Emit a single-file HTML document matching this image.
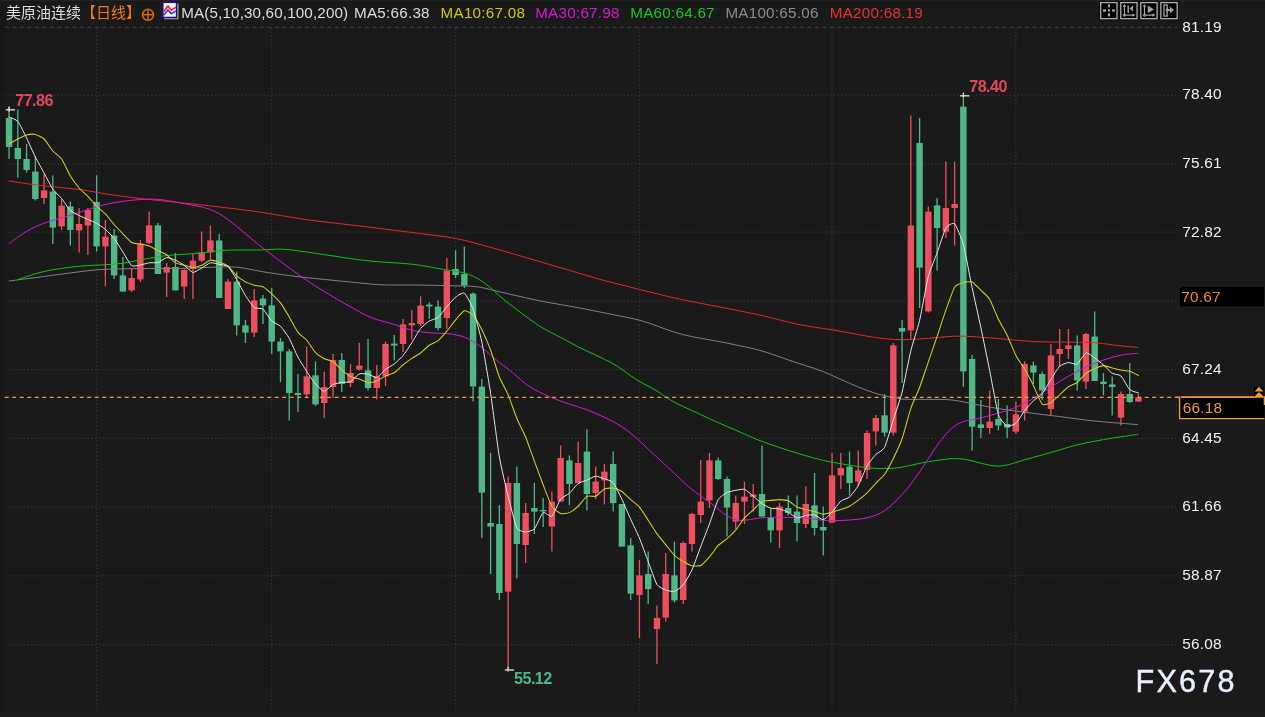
<!DOCTYPE html>
<html lang="zh"><head><meta charset="utf-8"><title>美原油连续 日线</title>
<style>html,body{margin:0;padding:0;background:#1a1a1a;overflow:hidden}svg{display:block}</style>
</head><body>
<svg width="1265" height="717" viewBox="0 0 1265 717">
<rect x="0" y="0" width="1265" height="717" fill="#1a1a1a"/>
<rect x="0" y="0" width="4.6" height="717" fill="#181818"/>
<line x1="5" y1="95.0" x2="1176.5" y2="95.0" stroke="#363636" stroke-width="1.25" stroke-dasharray="1.25 2.5"/>
<line x1="5" y1="163.5" x2="1176.5" y2="163.5" stroke="#363636" stroke-width="1.25" stroke-dasharray="1.25 2.5"/>
<line x1="5" y1="232.2" x2="1176.5" y2="232.2" stroke="#363636" stroke-width="1.25" stroke-dasharray="1.25 2.5"/>
<line x1="5" y1="301.0" x2="1176.5" y2="301.0" stroke="#363636" stroke-width="1.25" stroke-dasharray="1.25 2.5"/>
<line x1="5" y1="369.6" x2="1176.5" y2="369.6" stroke="#363636" stroke-width="1.25" stroke-dasharray="1.25 2.5"/>
<line x1="5" y1="438.3" x2="1176.5" y2="438.3" stroke="#363636" stroke-width="1.25" stroke-dasharray="1.25 2.5"/>
<line x1="5" y1="507.1" x2="1176.5" y2="507.1" stroke="#363636" stroke-width="1.25" stroke-dasharray="1.25 2.5"/>
<line x1="5" y1="575.9" x2="1176.5" y2="575.9" stroke="#363636" stroke-width="1.25" stroke-dasharray="1.25 2.5"/>
<line x1="5" y1="644.6" x2="1176.5" y2="644.6" stroke="#363636" stroke-width="1.25" stroke-dasharray="1.25 2.5"/>
<line x1="96.6" y1="28" x2="96.6" y2="711" stroke="#363636" stroke-width="1.25" stroke-dasharray="1.25 2.5"/>
<line x1="271.7" y1="28" x2="271.7" y2="711" stroke="#363636" stroke-width="1.25" stroke-dasharray="1.25 2.5"/>
<line x1="455.6" y1="28" x2="455.6" y2="711" stroke="#363636" stroke-width="1.25" stroke-dasharray="1.25 2.5"/>
<line x1="639.5" y1="28" x2="639.5" y2="711" stroke="#363636" stroke-width="1.25" stroke-dasharray="1.25 2.5"/>
<line x1="832.0" y1="28" x2="832.0" y2="711" stroke="#363636" stroke-width="1.25" stroke-dasharray="1.25 2.5"/>
<line x1="1015.8" y1="28" x2="1015.8" y2="711" stroke="#363636" stroke-width="1.25" stroke-dasharray="1.25 2.5"/>
<line x1="5" y1="27.2" x2="1177.5" y2="27.2" stroke="#464646" stroke-width="1.15" stroke-dasharray="3.75 3.75"/>
<line x1="9.07" y1="107.0" x2="9.07" y2="159.0" stroke="#50b787" stroke-width="1.3"/>
<rect x="5.87" y="118.0" width="6.4" height="29.0" fill="#50b787"/>
<line x1="17.83" y1="109.4" x2="17.83" y2="177.6" stroke="#50b787" stroke-width="1.3"/>
<rect x="14.63" y="148.0" width="6.4" height="11.0" fill="#50b787"/>
<line x1="26.58" y1="144.0" x2="26.58" y2="172.6" stroke="#50b787" stroke-width="1.3"/>
<rect x="23.38" y="159.0" width="6.4" height="11.0" fill="#50b787"/>
<line x1="35.34" y1="156.0" x2="35.34" y2="200.4" stroke="#50b787" stroke-width="1.3"/>
<rect x="32.13" y="171.6" width="6.4" height="27.4" fill="#50b787"/>
<line x1="44.09" y1="174.0" x2="44.09" y2="204.0" stroke="#ee4f5f" stroke-width="1.3"/>
<rect x="40.89" y="190.4" width="6.4" height="7.6" fill="#ee4f5f"/>
<line x1="52.85" y1="175.4" x2="52.85" y2="244.0" stroke="#50b787" stroke-width="1.3"/>
<rect x="49.65" y="191.6" width="6.4" height="36.0" fill="#50b787"/>
<line x1="61.60" y1="199.0" x2="61.60" y2="230.0" stroke="#ee4f5f" stroke-width="1.3"/>
<rect x="58.40" y="205.6" width="6.4" height="20.8" fill="#ee4f5f"/>
<line x1="70.36" y1="201.6" x2="70.36" y2="245.6" stroke="#50b787" stroke-width="1.3"/>
<rect x="67.16" y="206.4" width="6.4" height="23.6" fill="#50b787"/>
<line x1="79.11" y1="208.0" x2="79.11" y2="252.4" stroke="#ee4f5f" stroke-width="1.3"/>
<rect x="75.91" y="224.0" width="6.4" height="6.4" fill="#ee4f5f"/>
<line x1="87.87" y1="208.0" x2="87.87" y2="255.0" stroke="#ee4f5f" stroke-width="1.3"/>
<rect x="84.67" y="210.0" width="6.4" height="15.4" fill="#ee4f5f"/>
<line x1="96.62" y1="175.4" x2="96.62" y2="251.6" stroke="#50b787" stroke-width="1.3"/>
<rect x="93.42" y="202.0" width="6.4" height="44.4" fill="#50b787"/>
<line x1="105.38" y1="220.0" x2="105.38" y2="286.4" stroke="#ee4f5f" stroke-width="1.3"/>
<rect x="102.17" y="236.6" width="6.4" height="9.8" fill="#ee4f5f"/>
<line x1="114.13" y1="229.0" x2="114.13" y2="279.0" stroke="#50b787" stroke-width="1.3"/>
<rect x="110.93" y="235.4" width="6.4" height="40.0" fill="#50b787"/>
<line x1="122.89" y1="257.0" x2="122.89" y2="291.6" stroke="#50b787" stroke-width="1.3"/>
<rect x="119.69" y="275.4" width="6.4" height="16.2" fill="#50b787"/>
<line x1="131.64" y1="269.0" x2="131.64" y2="292.0" stroke="#ee4f5f" stroke-width="1.3"/>
<rect x="128.44" y="278.0" width="6.4" height="12.4" fill="#ee4f5f"/>
<line x1="140.40" y1="240.0" x2="140.40" y2="282.0" stroke="#ee4f5f" stroke-width="1.3"/>
<rect x="137.20" y="243.6" width="6.4" height="35.8" fill="#ee4f5f"/>
<line x1="149.15" y1="211.6" x2="149.15" y2="244.0" stroke="#ee4f5f" stroke-width="1.3"/>
<rect x="145.95" y="225.4" width="6.4" height="17.6" fill="#ee4f5f"/>
<line x1="157.91" y1="223.0" x2="157.91" y2="274.0" stroke="#50b787" stroke-width="1.3"/>
<rect x="154.71" y="225.4" width="6.4" height="48.6" fill="#50b787"/>
<line x1="166.66" y1="263.0" x2="166.66" y2="297.0" stroke="#ee4f5f" stroke-width="1.3"/>
<rect x="163.46" y="267.0" width="6.4" height="5.6" fill="#ee4f5f"/>
<line x1="175.42" y1="253.0" x2="175.42" y2="290.4" stroke="#50b787" stroke-width="1.3"/>
<rect x="172.22" y="267.0" width="6.4" height="23.4" fill="#50b787"/>
<line x1="184.17" y1="268.0" x2="184.17" y2="299.0" stroke="#ee4f5f" stroke-width="1.3"/>
<rect x="180.97" y="270.0" width="6.4" height="16.6" fill="#ee4f5f"/>
<line x1="192.93" y1="253.0" x2="192.93" y2="299.0" stroke="#ee4f5f" stroke-width="1.3"/>
<rect x="189.73" y="260.6" width="6.4" height="8.4" fill="#ee4f5f"/>
<line x1="201.68" y1="231.6" x2="201.68" y2="262.0" stroke="#ee4f5f" stroke-width="1.3"/>
<rect x="198.48" y="252.4" width="6.4" height="8.2" fill="#ee4f5f"/>
<line x1="210.44" y1="225.4" x2="210.44" y2="259.4" stroke="#ee4f5f" stroke-width="1.3"/>
<rect x="207.24" y="240.4" width="6.4" height="12.0" fill="#ee4f5f"/>
<line x1="219.19" y1="234.0" x2="219.19" y2="298.0" stroke="#50b787" stroke-width="1.3"/>
<rect x="215.99" y="240.4" width="6.4" height="57.6" fill="#50b787"/>
<line x1="227.95" y1="279.0" x2="227.95" y2="309.0" stroke="#ee4f5f" stroke-width="1.3"/>
<rect x="224.75" y="281.6" width="6.4" height="27.4" fill="#ee4f5f"/>
<line x1="236.70" y1="271.6" x2="236.70" y2="335.6" stroke="#50b787" stroke-width="1.3"/>
<rect x="233.50" y="281.6" width="6.4" height="43.8" fill="#50b787"/>
<line x1="245.46" y1="320.0" x2="245.46" y2="343.0" stroke="#50b787" stroke-width="1.3"/>
<rect x="242.26" y="325.4" width="6.4" height="7.2" fill="#50b787"/>
<line x1="254.21" y1="289.0" x2="254.21" y2="337.0" stroke="#ee4f5f" stroke-width="1.3"/>
<rect x="251.01" y="300.4" width="6.4" height="32.2" fill="#ee4f5f"/>
<line x1="262.97" y1="295.0" x2="262.97" y2="324.0" stroke="#50b787" stroke-width="1.3"/>
<rect x="259.77" y="298.6" width="6.4" height="6.8" fill="#50b787"/>
<line x1="271.72" y1="288.0" x2="271.72" y2="354.0" stroke="#50b787" stroke-width="1.3"/>
<rect x="268.52" y="305.4" width="6.4" height="36.2" fill="#50b787"/>
<line x1="280.48" y1="338.0" x2="280.48" y2="382.0" stroke="#50b787" stroke-width="1.3"/>
<rect x="277.28" y="341.6" width="6.4" height="9.8" fill="#50b787"/>
<line x1="289.23" y1="349.0" x2="289.23" y2="420.4" stroke="#50b787" stroke-width="1.3"/>
<rect x="286.03" y="351.4" width="6.4" height="41.6" fill="#50b787"/>
<line x1="297.99" y1="374.0" x2="297.99" y2="412.0" stroke="#50b787" stroke-width="1.3"/>
<rect x="294.79" y="393.0" width="6.4" height="2.0" fill="#50b787"/>
<line x1="306.74" y1="346.6" x2="306.74" y2="397.4" stroke="#ee4f5f" stroke-width="1.3"/>
<rect x="303.54" y="376.4" width="6.4" height="18.0" fill="#ee4f5f"/>
<line x1="315.50" y1="361.4" x2="315.50" y2="406.0" stroke="#50b787" stroke-width="1.3"/>
<rect x="312.30" y="375.4" width="6.4" height="29.0" fill="#50b787"/>
<line x1="324.25" y1="371.6" x2="324.25" y2="418.0" stroke="#ee4f5f" stroke-width="1.3"/>
<rect x="321.05" y="387.0" width="6.4" height="16.0" fill="#ee4f5f"/>
<line x1="333.00" y1="354.0" x2="333.00" y2="398.0" stroke="#ee4f5f" stroke-width="1.3"/>
<rect x="329.81" y="360.0" width="6.4" height="27.0" fill="#ee4f5f"/>
<line x1="341.76" y1="353.0" x2="341.76" y2="392.0" stroke="#50b787" stroke-width="1.3"/>
<rect x="338.56" y="360.0" width="6.4" height="24.0" fill="#50b787"/>
<line x1="350.52" y1="364.0" x2="350.52" y2="387.0" stroke="#ee4f5f" stroke-width="1.3"/>
<rect x="347.32" y="373.0" width="6.4" height="10.0" fill="#ee4f5f"/>
<line x1="359.27" y1="343.0" x2="359.27" y2="370.6" stroke="#ee4f5f" stroke-width="1.3"/>
<rect x="356.07" y="365.6" width="6.4" height="3.8" fill="#ee4f5f"/>
<line x1="368.03" y1="339.0" x2="368.03" y2="390.6" stroke="#50b787" stroke-width="1.3"/>
<rect x="364.83" y="370.4" width="6.4" height="17.6" fill="#50b787"/>
<line x1="376.78" y1="365.0" x2="376.78" y2="399.4" stroke="#ee4f5f" stroke-width="1.3"/>
<rect x="373.58" y="376.4" width="6.4" height="11.6" fill="#ee4f5f"/>
<line x1="385.54" y1="341.6" x2="385.54" y2="386.0" stroke="#ee4f5f" stroke-width="1.3"/>
<rect x="382.34" y="344.0" width="6.4" height="32.4" fill="#ee4f5f"/>
<line x1="394.29" y1="335.0" x2="394.29" y2="360.4" stroke="#50b787" stroke-width="1.3"/>
<rect x="391.09" y="343.6" width="6.4" height="2.0" fill="#50b787"/>
<line x1="403.05" y1="319.0" x2="403.05" y2="352.0" stroke="#ee4f5f" stroke-width="1.3"/>
<rect x="399.85" y="324.4" width="6.4" height="19.6" fill="#ee4f5f"/>
<line x1="411.80" y1="310.0" x2="411.80" y2="339.4" stroke="#ee4f5f" stroke-width="1.3"/>
<rect x="408.60" y="323.0" width="6.4" height="2.4" fill="#ee4f5f"/>
<line x1="420.56" y1="296.4" x2="420.56" y2="325.6" stroke="#ee4f5f" stroke-width="1.3"/>
<rect x="417.36" y="305.6" width="6.4" height="18.4" fill="#ee4f5f"/>
<line x1="429.31" y1="302.4" x2="429.31" y2="319.0" stroke="#50b787" stroke-width="1.3"/>
<rect x="426.11" y="304.6" width="6.4" height="1.8" fill="#50b787"/>
<line x1="438.07" y1="300.4" x2="438.07" y2="330.6" stroke="#50b787" stroke-width="1.3"/>
<rect x="434.87" y="306.6" width="6.4" height="21.4" fill="#50b787"/>
<line x1="446.82" y1="258.0" x2="446.82" y2="329.0" stroke="#ee4f5f" stroke-width="1.3"/>
<rect x="443.62" y="270.6" width="6.4" height="47.4" fill="#ee4f5f"/>
<line x1="455.58" y1="250.4" x2="455.58" y2="278.0" stroke="#50b787" stroke-width="1.3"/>
<rect x="452.38" y="269.0" width="6.4" height="6.0" fill="#50b787"/>
<line x1="464.33" y1="246.6" x2="464.33" y2="288.0" stroke="#50b787" stroke-width="1.3"/>
<rect x="461.13" y="274.0" width="6.4" height="11.6" fill="#50b787"/>
<line x1="473.09" y1="292.4" x2="473.09" y2="401.6" stroke="#50b787" stroke-width="1.3"/>
<rect x="469.89" y="293.6" width="6.4" height="92.8" fill="#50b787"/>
<line x1="481.84" y1="379.0" x2="481.84" y2="538.0" stroke="#50b787" stroke-width="1.3"/>
<rect x="478.64" y="386.6" width="6.4" height="106.0" fill="#50b787"/>
<line x1="490.60" y1="453.0" x2="490.60" y2="574.0" stroke="#50b787" stroke-width="1.3"/>
<rect x="487.40" y="523.0" width="6.4" height="3.6" fill="#50b787"/>
<line x1="499.35" y1="505.0" x2="499.35" y2="600.0" stroke="#50b787" stroke-width="1.3"/>
<rect x="496.15" y="524.0" width="6.4" height="69.0" fill="#50b787"/>
<line x1="508.11" y1="476.6" x2="508.11" y2="669.6" stroke="#ee4f5f" stroke-width="1.3"/>
<rect x="504.91" y="483.0" width="6.4" height="108.6" fill="#ee4f5f"/>
<line x1="516.86" y1="466.6" x2="516.86" y2="578.6" stroke="#50b787" stroke-width="1.3"/>
<rect x="513.66" y="483.0" width="6.4" height="61.0" fill="#50b787"/>
<line x1="525.62" y1="503.0" x2="525.62" y2="563.0" stroke="#ee4f5f" stroke-width="1.3"/>
<rect x="522.42" y="513.0" width="6.4" height="32.0" fill="#ee4f5f"/>
<line x1="534.37" y1="482.6" x2="534.37" y2="534.0" stroke="#50b787" stroke-width="1.3"/>
<rect x="531.17" y="508.0" width="6.4" height="3.6" fill="#50b787"/>
<line x1="543.13" y1="498.0" x2="543.13" y2="527.0" stroke="#50b787" stroke-width="1.3"/>
<rect x="539.93" y="510.0" width="6.4" height="1.4" fill="#50b787"/>
<line x1="551.88" y1="491.6" x2="551.88" y2="551.6" stroke="#ee4f5f" stroke-width="1.3"/>
<rect x="548.68" y="501.6" width="6.4" height="25.0" fill="#ee4f5f"/>
<line x1="560.64" y1="445.4" x2="560.64" y2="501.6" stroke="#ee4f5f" stroke-width="1.3"/>
<rect x="557.44" y="458.0" width="6.4" height="43.6" fill="#ee4f5f"/>
<line x1="569.39" y1="455.4" x2="569.39" y2="505.4" stroke="#50b787" stroke-width="1.3"/>
<rect x="566.19" y="460.4" width="6.4" height="23.6" fill="#50b787"/>
<line x1="578.15" y1="441.6" x2="578.15" y2="483.0" stroke="#ee4f5f" stroke-width="1.3"/>
<rect x="574.95" y="463.0" width="6.4" height="20.0" fill="#ee4f5f"/>
<line x1="586.90" y1="429.4" x2="586.90" y2="510.4" stroke="#50b787" stroke-width="1.3"/>
<rect x="583.70" y="451.6" width="6.4" height="42.4" fill="#50b787"/>
<line x1="595.66" y1="466.6" x2="595.66" y2="499.0" stroke="#ee4f5f" stroke-width="1.3"/>
<rect x="592.46" y="481.6" width="6.4" height="11.4" fill="#ee4f5f"/>
<line x1="604.41" y1="464.0" x2="604.41" y2="504.4" stroke="#ee4f5f" stroke-width="1.3"/>
<rect x="601.21" y="471.6" width="6.4" height="8.8" fill="#ee4f5f"/>
<line x1="613.17" y1="451.6" x2="613.17" y2="511.6" stroke="#50b787" stroke-width="1.3"/>
<rect x="609.97" y="464.0" width="6.4" height="39.0" fill="#50b787"/>
<line x1="621.92" y1="504.0" x2="621.92" y2="546.6" stroke="#50b787" stroke-width="1.3"/>
<rect x="618.72" y="504.0" width="6.4" height="42.6" fill="#50b787"/>
<line x1="630.68" y1="538.0" x2="630.68" y2="600.0" stroke="#50b787" stroke-width="1.3"/>
<rect x="627.48" y="545.4" width="6.4" height="48.2" fill="#50b787"/>
<line x1="639.43" y1="560.0" x2="639.43" y2="638.0" stroke="#ee4f5f" stroke-width="1.3"/>
<rect x="636.23" y="575.4" width="6.4" height="19.6" fill="#ee4f5f"/>
<line x1="648.19" y1="551.6" x2="648.19" y2="604.0" stroke="#50b787" stroke-width="1.3"/>
<rect x="644.99" y="574.0" width="6.4" height="15.0" fill="#50b787"/>
<line x1="656.94" y1="605.4" x2="656.94" y2="664.0" stroke="#ee4f5f" stroke-width="1.3"/>
<rect x="653.74" y="618.0" width="6.4" height="11.0" fill="#ee4f5f"/>
<line x1="665.70" y1="553.0" x2="665.70" y2="621.6" stroke="#ee4f5f" stroke-width="1.3"/>
<rect x="662.50" y="574.0" width="6.4" height="43.6" fill="#ee4f5f"/>
<line x1="674.45" y1="541.6" x2="674.45" y2="602.6" stroke="#50b787" stroke-width="1.3"/>
<rect x="671.25" y="575.4" width="6.4" height="25.0" fill="#50b787"/>
<line x1="683.21" y1="541.6" x2="683.21" y2="604.0" stroke="#ee4f5f" stroke-width="1.3"/>
<rect x="680.01" y="543.0" width="6.4" height="57.0" fill="#ee4f5f"/>
<line x1="691.96" y1="513.0" x2="691.96" y2="551.6" stroke="#ee4f5f" stroke-width="1.3"/>
<rect x="688.76" y="514.0" width="6.4" height="30.0" fill="#ee4f5f"/>
<line x1="700.72" y1="460.0" x2="700.72" y2="523.0" stroke="#ee4f5f" stroke-width="1.3"/>
<rect x="697.52" y="501.6" width="6.4" height="13.4" fill="#ee4f5f"/>
<line x1="709.47" y1="453.0" x2="709.47" y2="508.0" stroke="#ee4f5f" stroke-width="1.3"/>
<rect x="706.27" y="460.4" width="6.4" height="40.0" fill="#ee4f5f"/>
<line x1="718.23" y1="457.6" x2="718.23" y2="480.0" stroke="#50b787" stroke-width="1.3"/>
<rect x="715.03" y="460.4" width="6.4" height="18.6" fill="#50b787"/>
<line x1="726.98" y1="476.6" x2="726.98" y2="536.4" stroke="#50b787" stroke-width="1.3"/>
<rect x="723.78" y="479.0" width="6.4" height="28.6" fill="#50b787"/>
<line x1="735.74" y1="495.4" x2="735.74" y2="529.0" stroke="#ee4f5f" stroke-width="1.3"/>
<rect x="732.54" y="503.0" width="6.4" height="18.6" fill="#ee4f5f"/>
<line x1="744.49" y1="481.6" x2="744.49" y2="524.0" stroke="#ee4f5f" stroke-width="1.3"/>
<rect x="741.29" y="496.6" width="6.4" height="5.0" fill="#ee4f5f"/>
<line x1="753.25" y1="484.0" x2="753.25" y2="511.6" stroke="#ee4f5f" stroke-width="1.3"/>
<rect x="750.05" y="494.4" width="6.4" height="2.6" fill="#ee4f5f"/>
<line x1="762.00" y1="445.4" x2="762.00" y2="516.6" stroke="#50b787" stroke-width="1.3"/>
<rect x="758.80" y="494.0" width="6.4" height="22.6" fill="#50b787"/>
<line x1="770.76" y1="508.0" x2="770.76" y2="542.6" stroke="#50b787" stroke-width="1.3"/>
<rect x="767.56" y="517.0" width="6.4" height="13.4" fill="#50b787"/>
<line x1="779.51" y1="503.0" x2="779.51" y2="548.0" stroke="#ee4f5f" stroke-width="1.3"/>
<rect x="776.31" y="506.6" width="6.4" height="23.8" fill="#ee4f5f"/>
<line x1="788.27" y1="495.4" x2="788.27" y2="515.4" stroke="#50b787" stroke-width="1.3"/>
<rect x="785.07" y="508.0" width="6.4" height="5.0" fill="#50b787"/>
<line x1="797.02" y1="495.4" x2="797.02" y2="541.6" stroke="#50b787" stroke-width="1.3"/>
<rect x="793.82" y="511.6" width="6.4" height="11.4" fill="#50b787"/>
<line x1="805.78" y1="486.6" x2="805.78" y2="528.0" stroke="#ee4f5f" stroke-width="1.3"/>
<rect x="802.58" y="504.0" width="6.4" height="20.0" fill="#ee4f5f"/>
<line x1="814.53" y1="473.0" x2="814.53" y2="535.4" stroke="#50b787" stroke-width="1.3"/>
<rect x="811.33" y="505.4" width="6.4" height="22.6" fill="#50b787"/>
<line x1="823.29" y1="506.6" x2="823.29" y2="555.4" stroke="#50b787" stroke-width="1.3"/>
<rect x="820.09" y="527.0" width="6.4" height="3.4" fill="#50b787"/>
<line x1="832.04" y1="453.0" x2="832.04" y2="522.6" stroke="#ee4f5f" stroke-width="1.3"/>
<rect x="828.84" y="475.4" width="6.4" height="47.2" fill="#ee4f5f"/>
<line x1="840.80" y1="453.0" x2="840.80" y2="489.0" stroke="#ee4f5f" stroke-width="1.3"/>
<rect x="837.60" y="468.0" width="6.4" height="7.4" fill="#ee4f5f"/>
<line x1="849.55" y1="451.6" x2="849.55" y2="495.4" stroke="#50b787" stroke-width="1.3"/>
<rect x="846.35" y="466.6" width="6.4" height="16.4" fill="#50b787"/>
<line x1="858.31" y1="450.4" x2="858.31" y2="486.6" stroke="#ee4f5f" stroke-width="1.3"/>
<rect x="855.11" y="470.4" width="6.4" height="11.2" fill="#ee4f5f"/>
<line x1="867.06" y1="430.4" x2="867.06" y2="479.0" stroke="#ee4f5f" stroke-width="1.3"/>
<rect x="863.86" y="433.0" width="6.4" height="37.0" fill="#ee4f5f"/>
<line x1="875.82" y1="415.0" x2="875.82" y2="445.4" stroke="#ee4f5f" stroke-width="1.3"/>
<rect x="872.62" y="418.0" width="6.4" height="13.4" fill="#ee4f5f"/>
<line x1="884.57" y1="394.0" x2="884.57" y2="436.6" stroke="#50b787" stroke-width="1.3"/>
<rect x="881.37" y="415.4" width="6.4" height="17.2" fill="#50b787"/>
<line x1="893.33" y1="343.0" x2="893.33" y2="435.4" stroke="#ee4f5f" stroke-width="1.3"/>
<rect x="890.13" y="345.4" width="6.4" height="87.2" fill="#ee4f5f"/>
<line x1="902.08" y1="320.0" x2="902.08" y2="383.0" stroke="#50b787" stroke-width="1.3"/>
<rect x="898.88" y="328.0" width="6.4" height="3.6" fill="#50b787"/>
<line x1="910.84" y1="115.4" x2="910.84" y2="339.0" stroke="#ee4f5f" stroke-width="1.3"/>
<rect x="907.64" y="225.6" width="6.4" height="104.8" fill="#ee4f5f"/>
<line x1="919.59" y1="118.0" x2="919.59" y2="308.0" stroke="#50b787" stroke-width="1.3"/>
<rect x="916.39" y="143.0" width="6.4" height="124.6" fill="#50b787"/>
<line x1="928.35" y1="206.6" x2="928.35" y2="312.6" stroke="#ee4f5f" stroke-width="1.3"/>
<rect x="925.15" y="211.6" width="6.4" height="99.8" fill="#ee4f5f"/>
<line x1="937.10" y1="198.0" x2="937.10" y2="270.4" stroke="#50b787" stroke-width="1.3"/>
<rect x="933.90" y="205.4" width="6.4" height="22.6" fill="#50b787"/>
<line x1="945.86" y1="161.6" x2="945.86" y2="238.0" stroke="#ee4f5f" stroke-width="1.3"/>
<rect x="942.66" y="208.0" width="6.4" height="23.6" fill="#ee4f5f"/>
<line x1="954.61" y1="161.6" x2="954.61" y2="245.6" stroke="#ee4f5f" stroke-width="1.3"/>
<rect x="951.41" y="204.0" width="6.4" height="4.0" fill="#ee4f5f"/>
<line x1="963.37" y1="95.6" x2="963.37" y2="386.6" stroke="#50b787" stroke-width="1.3"/>
<rect x="960.17" y="106.6" width="6.4" height="264.8" fill="#50b787"/>
<line x1="972.12" y1="355.0" x2="972.12" y2="450.4" stroke="#50b787" stroke-width="1.3"/>
<rect x="968.92" y="359.0" width="6.4" height="67.6" fill="#50b787"/>
<line x1="980.88" y1="400.0" x2="980.88" y2="438.0" stroke="#50b787" stroke-width="1.3"/>
<rect x="977.68" y="424.4" width="6.4" height="3.6" fill="#50b787"/>
<line x1="989.63" y1="390.4" x2="989.63" y2="434.0" stroke="#ee4f5f" stroke-width="1.3"/>
<rect x="986.43" y="421.6" width="6.4" height="6.4" fill="#ee4f5f"/>
<line x1="998.39" y1="399.0" x2="998.39" y2="430.4" stroke="#50b787" stroke-width="1.3"/>
<rect x="995.19" y="419.0" width="6.4" height="6.4" fill="#50b787"/>
<line x1="1007.14" y1="405.4" x2="1007.14" y2="438.0" stroke="#50b787" stroke-width="1.3"/>
<rect x="1003.94" y="424.0" width="6.4" height="3.6" fill="#50b787"/>
<line x1="1015.90" y1="401.6" x2="1015.90" y2="434.0" stroke="#ee4f5f" stroke-width="1.3"/>
<rect x="1012.70" y="414.4" width="6.4" height="17.2" fill="#ee4f5f"/>
<line x1="1024.65" y1="361.6" x2="1024.65" y2="420.4" stroke="#ee4f5f" stroke-width="1.3"/>
<rect x="1021.45" y="364.0" width="6.4" height="47.6" fill="#ee4f5f"/>
<line x1="1033.40" y1="361.6" x2="1033.40" y2="384.0" stroke="#50b787" stroke-width="1.3"/>
<rect x="1030.20" y="365.4" width="6.4" height="7.2" fill="#50b787"/>
<line x1="1042.16" y1="371.6" x2="1042.16" y2="400.0" stroke="#50b787" stroke-width="1.3"/>
<rect x="1038.96" y="374.0" width="6.4" height="16.4" fill="#50b787"/>
<line x1="1050.91" y1="344.0" x2="1050.91" y2="415.4" stroke="#ee4f5f" stroke-width="1.3"/>
<rect x="1047.71" y="355.4" width="6.4" height="53.6" fill="#ee4f5f"/>
<line x1="1059.67" y1="329.0" x2="1059.67" y2="366.6" stroke="#ee4f5f" stroke-width="1.3"/>
<rect x="1056.47" y="349.0" width="6.4" height="5.0" fill="#ee4f5f"/>
<line x1="1068.42" y1="329.0" x2="1068.42" y2="359.0" stroke="#ee4f5f" stroke-width="1.3"/>
<rect x="1065.22" y="345.4" width="6.4" height="3.6" fill="#ee4f5f"/>
<line x1="1077.18" y1="335.4" x2="1077.18" y2="390.4" stroke="#50b787" stroke-width="1.3"/>
<rect x="1073.98" y="345.4" width="6.4" height="35.0" fill="#50b787"/>
<line x1="1085.93" y1="333.0" x2="1085.93" y2="389.0" stroke="#ee4f5f" stroke-width="1.3"/>
<rect x="1082.73" y="334.0" width="6.4" height="47.6" fill="#ee4f5f"/>
<line x1="1094.69" y1="311.6" x2="1094.69" y2="381.0" stroke="#50b787" stroke-width="1.3"/>
<rect x="1091.49" y="336.6" width="6.4" height="44.4" fill="#50b787"/>
<line x1="1103.44" y1="373.0" x2="1103.44" y2="395.4" stroke="#50b787" stroke-width="1.3"/>
<rect x="1100.24" y="381.6" width="6.4" height="2.4" fill="#50b787"/>
<line x1="1112.20" y1="376.6" x2="1112.20" y2="415.4" stroke="#50b787" stroke-width="1.3"/>
<rect x="1109.00" y="384.4" width="6.4" height="2.6" fill="#50b787"/>
<line x1="1120.95" y1="391.6" x2="1120.95" y2="425.4" stroke="#ee4f5f" stroke-width="1.3"/>
<rect x="1117.75" y="394.0" width="6.4" height="23.6" fill="#ee4f5f"/>
<line x1="1129.71" y1="363.0" x2="1129.71" y2="403.0" stroke="#50b787" stroke-width="1.3"/>
<rect x="1126.51" y="394.0" width="6.4" height="8.0" fill="#50b787"/>
<line x1="1138.47" y1="394.0" x2="1138.47" y2="401.6" stroke="#ee4f5f" stroke-width="1.3"/>
<rect x="1135.27" y="397.4" width="6.4" height="4.2" fill="#ee4f5f"/>
<path d="M9.20,181.00 C10.64,181.22 14.93,181.86 17.83,182.29 C20.72,182.73 23.66,183.17 26.58,183.60 C29.50,184.02 32.42,184.46 35.34,184.85 C38.25,185.24 41.17,185.60 44.09,185.93 C47.01,186.25 49.93,186.53 52.85,186.82 C55.76,187.11 58.68,187.37 61.60,187.65 C64.52,187.93 67.44,188.18 70.36,188.48 C73.27,188.79 76.19,189.09 79.11,189.47 C82.03,189.86 84.95,190.32 87.87,190.79 C90.78,191.27 93.70,191.81 96.62,192.31 C99.54,192.81 102.46,193.33 105.38,193.81 C108.29,194.29 111.21,194.76 114.13,195.18 C117.05,195.61 119.97,195.98 122.89,196.36 C125.80,196.74 128.72,197.10 131.64,197.45 C134.56,197.81 137.48,198.18 140.40,198.52 C143.31,198.86 146.23,199.18 149.15,199.49 C152.07,199.80 154.99,200.09 157.91,200.39 C160.82,200.69 163.74,200.97 166.66,201.27 C169.58,201.56 172.50,201.85 175.42,202.15 C178.33,202.45 181.25,202.76 184.17,203.07 C187.09,203.38 190.01,203.70 192.93,204.02 C195.84,204.34 198.76,204.66 201.68,204.98 C204.60,205.31 207.52,205.62 210.44,205.95 C213.35,206.27 216.27,206.60 219.19,206.93 C222.11,207.27 225.03,207.62 227.95,207.97 C230.86,208.31 233.78,208.67 236.70,209.02 C239.62,209.38 242.54,209.72 245.46,210.10 C248.37,210.47 251.29,210.86 254.21,211.28 C257.13,211.70 260.05,212.17 262.97,212.63 C265.88,213.09 268.80,213.59 271.72,214.06 C274.64,214.54 277.56,215.02 280.48,215.50 C283.39,215.97 286.31,216.45 289.23,216.93 C292.15,217.41 295.07,217.90 297.99,218.36 C300.90,218.82 303.82,219.29 306.74,219.70 C309.66,220.12 312.58,220.49 315.50,220.85 C318.41,221.21 321.33,221.54 324.25,221.88 C327.17,222.21 330.09,222.55 333.00,222.89 C335.92,223.22 338.84,223.56 341.76,223.90 C344.68,224.23 347.60,224.57 350.52,224.91 C353.43,225.25 356.35,225.59 359.27,225.94 C362.19,226.28 365.11,226.64 368.03,227.00 C370.94,227.37 373.86,227.73 376.78,228.10 C379.70,228.46 382.62,228.83 385.54,229.19 C388.45,229.56 391.37,229.92 394.29,230.29 C397.21,230.65 400.13,231.02 403.05,231.38 C405.96,231.75 408.88,232.11 411.80,232.48 C414.72,232.84 417.64,233.20 420.56,233.57 C423.47,233.93 426.39,234.29 429.31,234.66 C432.23,235.04 435.15,235.41 438.07,235.80 C440.98,236.20 443.90,236.59 446.82,237.04 C449.74,237.48 452.66,237.92 455.58,238.47 C458.49,239.02 461.41,239.63 464.33,240.32 C467.25,241.00 470.17,241.80 473.09,242.57 C476.00,243.34 478.92,244.16 481.84,244.96 C484.76,245.76 487.68,246.56 490.60,247.37 C493.51,248.19 496.43,249.02 499.35,249.86 C502.27,250.70 505.19,251.55 508.11,252.39 C511.02,253.24 513.94,254.09 516.86,254.94 C519.78,255.79 522.70,256.64 525.62,257.49 C528.53,258.34 531.45,259.19 534.37,260.03 C537.29,260.88 540.21,261.73 543.13,262.59 C546.04,263.44 548.96,264.30 551.88,265.16 C554.80,266.02 557.72,266.88 560.64,267.74 C563.55,268.61 566.47,269.47 569.39,270.34 C572.31,271.20 575.23,272.07 578.15,272.93 C581.06,273.80 583.98,274.67 586.90,275.53 C589.82,276.39 592.74,277.26 595.66,278.09 C598.57,278.93 601.49,279.75 604.41,280.54 C607.33,281.33 610.25,282.07 613.17,282.82 C616.08,283.57 619.00,284.30 621.92,285.03 C624.84,285.77 627.76,286.51 630.68,287.24 C633.59,287.98 636.51,288.71 639.43,289.44 C642.35,290.17 645.27,290.89 648.19,291.60 C651.10,292.32 654.02,293.04 656.94,293.75 C659.86,294.47 662.78,295.19 665.70,295.90 C668.61,296.60 671.53,297.32 674.45,298.00 C677.37,298.67 680.29,299.32 683.21,299.93 C686.12,300.55 689.04,301.11 691.96,301.67 C694.88,302.24 697.80,302.78 700.72,303.34 C703.63,303.89 706.55,304.44 709.47,305.00 C712.39,305.56 715.31,306.11 718.23,306.68 C721.14,307.25 724.06,307.82 726.98,308.40 C729.90,308.98 732.82,309.56 735.74,310.15 C738.65,310.73 741.57,311.31 744.49,311.90 C747.41,312.49 750.33,313.06 753.25,313.67 C756.16,314.29 759.08,314.92 762.00,315.58 C764.92,316.25 767.84,316.97 770.76,317.69 C773.67,318.40 776.59,319.15 779.51,319.88 C782.43,320.61 785.35,321.36 788.27,322.07 C791.18,322.77 794.10,323.49 797.02,324.11 C799.94,324.73 802.86,325.28 805.78,325.79 C808.69,326.30 811.61,326.73 814.53,327.18 C817.45,327.63 820.37,328.05 823.29,328.49 C826.20,328.93 829.12,329.35 832.04,329.82 C834.96,330.28 837.88,330.74 840.80,331.26 C843.71,331.77 846.63,332.35 849.55,332.91 C852.47,333.47 855.39,334.06 858.31,334.60 C861.22,335.14 864.14,335.66 867.06,336.15 C869.98,336.64 872.90,337.11 875.82,337.52 C878.73,337.93 881.65,338.30 884.57,338.60 C887.49,338.91 890.41,339.18 893.33,339.36 C896.24,339.54 899.16,339.65 902.08,339.67 C905.00,339.69 907.92,339.58 910.84,339.46 C913.75,339.34 916.67,339.15 919.59,338.96 C922.51,338.77 925.43,338.56 928.35,338.33 C931.26,338.10 934.18,337.84 937.10,337.58 C940.02,337.32 942.94,337.00 945.86,336.77 C948.77,336.53 951.69,336.28 954.61,336.18 C957.53,336.08 960.45,336.08 963.37,336.14 C966.28,336.21 969.20,336.41 972.12,336.58 C975.04,336.75 977.96,336.98 980.88,337.19 C983.79,337.40 986.71,337.60 989.63,337.83 C992.55,338.05 995.47,338.27 998.39,338.52 C1001.30,338.77 1004.22,339.05 1007.14,339.32 C1010.06,339.60 1012.98,339.89 1015.90,340.15 C1018.81,340.42 1021.73,340.67 1024.65,340.89 C1027.57,341.12 1030.49,341.34 1033.40,341.50 C1036.32,341.67 1039.24,341.80 1042.16,341.88 C1045.08,341.97 1048.00,341.99 1050.91,342.02 C1053.83,342.05 1056.75,342.05 1059.67,342.07 C1062.59,342.09 1065.51,342.12 1068.42,342.14 C1071.34,342.17 1074.26,342.19 1077.18,342.22 C1080.10,342.24 1083.02,342.23 1085.93,342.30 C1088.85,342.36 1091.77,342.40 1094.69,342.61 C1097.61,342.82 1100.53,343.18 1103.44,343.55 C1106.36,343.92 1109.28,344.44 1112.20,344.82 C1115.12,345.20 1118.04,345.54 1120.95,345.84 C1123.87,346.14 1126.94,346.38 1129.71,346.64 C1132.48,346.90 1136.28,347.27 1137.60,347.40" fill="none" stroke="#e02828" stroke-width="1.0" stroke-linejoin="round" stroke-linecap="round"/>
<path d="M9.20,281.00 C10.64,280.81 14.93,280.25 17.83,279.88 C20.72,279.50 23.66,279.12 26.58,278.74 C29.50,278.36 32.42,277.98 35.34,277.60 C38.25,277.22 41.17,276.84 44.09,276.45 C47.01,276.06 49.93,275.68 52.85,275.29 C55.76,274.90 58.68,274.51 61.60,274.12 C64.52,273.73 67.44,273.34 70.36,272.96 C73.27,272.57 76.19,272.19 79.11,271.81 C82.03,271.43 84.95,271.02 87.87,270.68 C90.78,270.34 93.70,270.01 96.62,269.79 C99.54,269.56 102.46,269.44 105.38,269.32 C108.29,269.20 111.21,269.15 114.13,269.07 C117.05,268.98 119.97,268.89 122.89,268.82 C125.80,268.75 128.72,268.68 131.64,268.64 C134.56,268.60 137.48,268.58 140.40,268.56 C143.31,268.54 146.23,268.54 149.15,268.52 C152.07,268.51 154.99,268.50 157.91,268.49 C160.82,268.48 163.74,268.47 166.66,268.45 C169.58,268.44 172.50,268.43 175.42,268.39 C178.33,268.35 181.25,268.29 184.17,268.22 C187.09,268.15 190.01,268.04 192.93,267.95 C195.84,267.85 198.76,267.74 201.68,267.64 C204.60,267.54 207.52,267.44 210.44,267.33 C213.35,267.23 216.27,267.11 219.19,267.02 C222.11,266.93 225.03,266.79 227.95,266.82 C230.86,266.84 233.78,266.91 236.70,267.17 C239.62,267.43 242.54,267.91 245.46,268.40 C248.37,268.89 251.29,269.55 254.21,270.11 C257.13,270.67 260.05,271.23 262.97,271.74 C265.88,272.25 268.80,272.71 271.72,273.15 C274.64,273.60 277.56,273.99 280.48,274.40 C283.39,274.80 286.31,275.18 289.23,275.56 C292.15,275.94 295.07,276.33 297.99,276.68 C300.90,277.02 303.82,277.34 306.74,277.66 C309.66,277.97 312.58,278.25 315.50,278.55 C318.41,278.84 321.33,279.13 324.25,279.43 C327.17,279.72 330.09,280.01 333.00,280.30 C335.92,280.59 338.84,280.88 341.76,281.18 C344.68,281.47 347.60,281.76 350.52,282.05 C353.43,282.34 356.35,282.64 359.27,282.93 C362.19,283.22 365.11,283.53 368.03,283.80 C370.94,284.07 373.86,284.35 376.78,284.54 C379.70,284.73 382.62,284.84 385.54,284.92 C388.45,285.00 391.37,284.99 394.29,285.00 C397.21,285.01 400.13,285.00 403.05,285.00 C405.96,285.00 408.88,284.99 411.80,285.00 C414.72,285.01 417.64,285.03 420.56,285.07 C423.47,285.10 426.39,285.17 429.31,285.23 C432.23,285.30 435.15,285.38 438.07,285.45 C440.98,285.52 443.90,285.60 446.82,285.67 C449.74,285.74 452.66,285.81 455.58,285.86 C458.49,285.91 461.41,285.89 464.33,285.97 C467.25,286.05 470.17,286.09 473.09,286.36 C476.00,286.62 478.92,287.04 481.84,287.57 C484.76,288.10 487.68,288.84 490.60,289.53 C493.51,290.22 496.43,291.01 499.35,291.72 C502.27,292.44 505.19,293.14 508.11,293.81 C511.02,294.49 513.94,295.14 516.86,295.79 C519.78,296.45 522.70,297.11 525.62,297.76 C528.53,298.41 531.45,299.08 534.37,299.69 C537.29,300.31 540.21,300.91 543.13,301.48 C546.04,302.04 548.96,302.56 551.88,303.08 C554.80,303.60 557.72,304.10 560.64,304.61 C563.55,305.12 566.47,305.63 569.39,306.14 C572.31,306.66 575.23,307.18 578.15,307.72 C581.06,308.26 583.98,308.82 586.90,309.39 C589.82,309.96 592.74,310.55 595.66,311.13 C598.57,311.71 601.49,312.30 604.41,312.88 C607.33,313.47 610.25,314.05 613.17,314.63 C616.08,315.22 619.00,315.80 621.92,316.38 C624.84,316.97 627.76,317.50 630.68,318.13 C633.59,318.77 636.51,319.40 639.43,320.19 C642.35,320.98 645.27,321.92 648.19,322.89 C651.10,323.85 654.02,324.92 656.94,325.96 C659.86,327.01 662.78,328.12 665.70,329.15 C668.61,330.19 671.53,331.25 674.45,332.17 C677.37,333.08 680.29,333.90 683.21,334.64 C686.12,335.38 689.04,336.02 691.96,336.63 C694.88,337.24 697.80,337.77 700.72,338.30 C703.63,338.83 706.55,339.29 709.47,339.81 C712.39,340.32 715.31,340.82 718.23,341.37 C721.14,341.91 724.06,342.49 726.98,343.08 C729.90,343.67 732.82,344.29 735.74,344.90 C738.65,345.51 741.57,346.12 744.49,346.74 C747.41,347.37 750.33,347.95 753.25,348.65 C756.16,349.35 759.08,350.08 762.00,350.94 C764.92,351.79 767.84,352.78 770.76,353.76 C773.67,354.75 776.59,355.81 779.51,356.83 C782.43,357.85 785.35,358.88 788.27,359.89 C791.18,360.90 794.10,361.92 797.02,362.88 C799.94,363.85 802.86,364.76 805.78,365.70 C808.69,366.63 811.61,367.48 814.53,368.48 C817.45,369.48 820.37,370.53 823.29,371.68 C826.20,372.84 829.12,374.14 832.04,375.42 C834.96,376.70 837.88,378.04 840.80,379.36 C843.71,380.67 846.63,382.01 849.55,383.30 C852.47,384.58 855.39,385.87 858.31,387.06 C861.22,388.25 864.14,389.38 867.06,390.43 C869.98,391.48 872.90,392.47 875.82,393.36 C878.73,394.26 881.65,395.06 884.57,395.79 C887.49,396.52 890.41,397.19 893.33,397.73 C896.24,398.26 899.16,398.72 902.08,399.00 C905.00,399.28 907.92,399.33 910.84,399.40 C913.75,399.47 916.67,399.40 919.59,399.40 C922.51,399.40 925.43,399.40 928.35,399.40 C931.26,399.40 934.18,399.38 937.10,399.40 C940.02,399.42 942.94,399.39 945.86,399.54 C948.77,399.70 951.69,399.93 954.61,400.32 C957.53,400.72 960.45,401.34 963.37,401.91 C966.28,402.48 969.20,403.15 972.12,403.74 C975.04,404.32 977.96,404.88 980.88,405.43 C983.79,405.98 986.71,406.54 989.63,407.06 C992.55,407.59 995.47,408.13 998.39,408.60 C1001.30,409.08 1004.22,409.51 1007.14,409.93 C1010.06,410.35 1012.98,410.73 1015.90,411.12 C1018.81,411.51 1021.73,411.90 1024.65,412.28 C1027.57,412.65 1030.49,413.03 1033.40,413.39 C1036.32,413.75 1039.24,414.11 1042.16,414.46 C1045.08,414.81 1048.00,415.15 1050.91,415.51 C1053.83,415.86 1056.75,416.22 1059.67,416.59 C1062.59,416.96 1065.51,417.34 1068.42,417.72 C1071.34,418.11 1074.26,418.51 1077.18,418.89 C1080.10,419.28 1083.02,419.68 1085.93,420.04 C1088.85,420.39 1091.77,420.74 1094.69,421.04 C1097.61,421.34 1100.53,421.59 1103.44,421.84 C1106.36,422.09 1109.28,422.31 1112.20,422.55 C1115.12,422.79 1118.04,423.02 1120.95,423.26 C1123.87,423.49 1126.94,423.72 1129.71,423.95 C1132.48,424.17 1136.28,424.49 1137.60,424.60" fill="none" stroke="#808080" stroke-width="1.0" stroke-linejoin="round" stroke-linecap="round"/>
<path d="M17.83,279.49 C19.28,279.02 23.66,277.58 26.58,276.63 C29.50,275.68 32.42,274.67 35.34,273.81 C38.25,272.95 41.17,272.14 44.09,271.46 C47.01,270.78 49.93,270.24 52.85,269.71 C55.76,269.19 58.68,268.74 61.60,268.32 C64.52,267.89 67.44,267.50 70.36,267.16 C73.27,266.81 76.19,266.50 79.11,266.24 C82.03,265.99 84.95,265.80 87.87,265.62 C90.78,265.44 93.70,265.32 96.62,265.17 C99.54,265.02 102.46,264.90 105.38,264.73 C108.29,264.57 111.21,264.44 114.13,264.19 C117.05,263.93 119.97,263.62 122.89,263.20 C125.80,262.78 128.72,262.22 131.64,261.67 C134.56,261.13 137.48,260.49 140.40,259.92 C143.31,259.35 146.23,258.77 149.15,258.25 C152.07,257.73 154.99,257.23 157.91,256.79 C160.82,256.35 163.74,255.94 166.66,255.61 C169.58,255.28 172.50,255.03 175.42,254.81 C178.33,254.58 181.25,254.45 184.17,254.25 C187.09,254.06 190.01,253.87 192.93,253.63 C195.84,253.40 198.76,253.12 201.68,252.83 C204.60,252.53 207.52,252.18 210.44,251.85 C213.35,251.52 216.27,251.11 219.19,250.83 C222.11,250.55 225.03,250.31 227.95,250.17 C230.86,250.03 233.78,250.03 236.70,250.00 C239.62,249.97 242.54,250.00 245.46,250.00 C248.37,250.00 251.29,250.02 254.21,250.00 C257.13,249.98 260.05,249.96 262.97,249.86 C265.88,249.75 268.80,249.50 271.72,249.38 C274.64,249.25 277.56,249.06 280.48,249.11 C283.39,249.17 286.31,249.42 289.23,249.71 C292.15,249.99 295.07,250.42 297.99,250.81 C300.90,251.20 303.82,251.61 306.74,252.03 C309.66,252.45 312.58,252.89 315.50,253.32 C318.41,253.76 321.33,254.20 324.25,254.64 C327.17,255.08 330.09,255.51 333.00,255.95 C335.92,256.39 338.84,256.83 341.76,257.26 C344.68,257.70 347.60,258.16 350.52,258.58 C353.43,259.00 356.35,259.42 359.27,259.79 C362.19,260.16 365.11,260.49 368.03,260.79 C370.94,261.10 373.86,261.37 376.78,261.61 C379.70,261.85 382.62,262.05 385.54,262.24 C388.45,262.43 391.37,262.56 394.29,262.75 C397.21,262.94 400.13,263.14 403.05,263.38 C405.96,263.62 408.88,263.87 411.80,264.19 C414.72,264.52 417.64,264.87 420.56,265.32 C423.47,265.76 426.39,266.33 429.31,266.86 C432.23,267.39 435.15,268.00 438.07,268.49 C440.98,268.99 443.90,269.41 446.82,269.85 C449.74,270.29 452.66,270.62 455.58,271.14 C458.49,271.67 461.41,272.15 464.33,273.00 C467.25,273.85 470.17,274.86 473.09,276.22 C476.00,277.58 478.92,279.21 481.84,281.16 C484.76,283.10 487.68,285.47 490.60,287.90 C493.51,290.32 496.43,293.19 499.35,295.71 C502.27,298.23 505.19,300.69 508.11,303.01 C511.02,305.34 513.94,307.45 516.86,309.64 C519.78,311.84 522.70,314.06 525.62,316.21 C528.53,318.37 531.45,320.58 534.37,322.58 C537.29,324.58 540.21,326.48 543.13,328.21 C546.04,329.94 548.96,331.41 551.88,332.95 C554.80,334.49 557.72,335.91 560.64,337.45 C563.55,338.99 566.47,340.61 569.39,342.16 C572.31,343.72 575.23,345.32 578.15,346.81 C581.06,348.29 583.98,349.68 586.90,351.06 C589.82,352.44 592.74,353.73 595.66,355.10 C598.57,356.47 601.49,357.81 604.41,359.26 C607.33,360.71 610.25,362.09 613.17,363.77 C616.08,365.46 619.00,367.36 621.92,369.36 C624.84,371.36 627.76,373.78 630.68,375.80 C633.59,377.81 636.51,379.74 639.43,381.45 C642.35,383.17 645.27,384.48 648.19,386.08 C651.10,387.68 654.02,389.24 656.94,391.04 C659.86,392.84 662.78,395.00 665.70,396.88 C668.61,398.75 671.53,400.68 674.45,402.29 C677.37,403.91 680.29,405.19 683.21,406.56 C686.12,407.94 689.04,409.19 691.96,410.54 C694.88,411.89 697.80,413.29 700.72,414.66 C703.63,416.02 706.55,417.40 709.47,418.73 C712.39,420.06 715.31,421.36 718.23,422.64 C721.14,423.92 724.06,425.16 726.98,426.42 C729.90,427.68 732.82,428.93 735.74,430.20 C738.65,431.47 741.57,432.76 744.49,434.04 C747.41,435.33 750.33,436.66 753.25,437.90 C756.16,439.14 759.08,440.36 762.00,441.47 C764.92,442.58 767.84,443.58 770.76,444.59 C773.67,445.59 776.59,446.54 779.51,447.50 C782.43,448.47 785.35,449.43 788.27,450.36 C791.18,451.29 794.10,452.20 797.02,453.09 C799.94,453.99 802.86,454.87 805.78,455.73 C808.69,456.59 811.61,457.48 814.53,458.26 C817.45,459.04 820.37,459.78 823.29,460.43 C826.20,461.08 829.12,461.62 832.04,462.17 C834.96,462.71 837.88,463.21 840.80,463.72 C843.71,464.22 846.63,464.74 849.55,465.22 C852.47,465.70 855.39,466.18 858.31,466.59 C861.22,467.00 864.14,467.37 867.06,467.68 C869.98,467.98 872.90,468.25 875.82,468.41 C878.73,468.57 881.65,468.64 884.57,468.61 C887.49,468.58 890.41,468.47 893.33,468.23 C896.24,467.99 899.16,467.64 902.08,467.15 C905.00,466.66 907.92,465.93 910.84,465.29 C913.75,464.65 916.67,463.90 919.59,463.30 C922.51,462.71 925.43,462.22 928.35,461.73 C931.26,461.24 934.18,460.79 937.10,460.38 C940.02,459.96 942.94,459.52 945.86,459.23 C948.77,458.94 951.69,458.66 954.61,458.64 C957.53,458.62 960.45,458.75 963.37,459.12 C966.28,459.49 969.20,460.19 972.12,460.87 C975.04,461.54 977.96,462.45 980.88,463.17 C983.79,463.89 986.71,464.73 989.63,465.21 C992.55,465.70 995.47,466.14 998.39,466.10 C1001.30,466.06 1004.22,465.58 1007.14,464.97 C1010.06,464.37 1012.98,463.32 1015.90,462.46 C1018.81,461.60 1021.73,460.66 1024.65,459.81 C1027.57,458.97 1030.49,458.18 1033.40,457.38 C1036.32,456.57 1039.24,455.78 1042.16,454.98 C1045.08,454.17 1048.00,453.39 1050.91,452.54 C1053.83,451.70 1056.75,450.81 1059.67,449.92 C1062.59,449.04 1065.51,448.05 1068.42,447.21 C1071.34,446.37 1074.26,445.59 1077.18,444.88 C1080.10,444.16 1083.02,443.55 1085.93,442.94 C1088.85,442.33 1091.77,441.75 1094.69,441.20 C1097.61,440.64 1100.53,440.11 1103.44,439.60 C1106.36,439.09 1109.28,438.60 1112.20,438.14 C1115.12,437.67 1118.04,437.24 1120.95,436.81 C1123.87,436.39 1126.94,435.98 1129.71,435.57 C1132.48,435.17 1136.28,434.60 1137.60,434.40" fill="none" stroke="#10c010" stroke-width="1.0" stroke-linejoin="round" stroke-linecap="round"/>
<path d="M9.20,243.60 C10.64,242.52 14.93,239.12 17.83,237.09 C20.72,235.06 23.66,233.14 26.58,231.43 C29.50,229.71 32.42,228.16 35.34,226.79 C38.25,225.42 41.17,224.28 44.09,223.21 C47.01,222.14 49.93,221.25 52.85,220.36 C55.76,219.47 58.68,218.70 61.60,217.86 C64.52,217.02 67.44,216.22 70.36,215.32 C73.27,214.42 76.19,213.43 79.11,212.46 C82.03,211.49 84.95,210.47 87.87,209.52 C90.78,208.56 93.70,207.60 96.62,206.76 C99.54,205.91 102.46,205.11 105.38,204.43 C108.29,203.75 111.21,203.20 114.13,202.68 C117.05,202.16 119.97,201.73 122.89,201.32 C125.80,200.92 128.72,200.56 131.64,200.26 C134.56,199.95 137.48,199.68 140.40,199.49 C143.31,199.30 146.23,199.12 149.15,199.09 C152.07,199.06 154.99,199.11 157.91,199.33 C160.82,199.56 163.74,199.98 166.66,200.44 C169.58,200.89 172.50,201.51 175.42,202.05 C178.33,202.59 181.25,203.14 184.17,203.67 C187.09,204.20 190.01,204.68 192.93,205.23 C195.84,205.78 198.76,206.24 201.68,206.96 C204.60,207.68 207.52,208.42 210.44,209.55 C213.35,210.68 216.27,212.07 219.19,213.73 C222.11,215.39 225.03,217.41 227.95,219.52 C230.86,221.63 233.78,224.01 236.70,226.37 C239.62,228.73 242.54,231.23 245.46,233.67 C248.37,236.11 251.29,238.60 254.21,241.00 C257.13,243.41 260.05,245.78 262.97,248.08 C265.88,250.38 268.80,252.58 271.72,254.79 C274.64,257.00 277.56,259.17 280.48,261.36 C283.39,263.55 286.31,265.76 289.23,267.92 C292.15,270.08 295.07,272.25 297.99,274.32 C300.90,276.39 303.82,278.38 306.74,280.33 C309.66,282.28 312.58,284.16 315.50,286.02 C318.41,287.88 321.33,289.70 324.25,291.49 C327.17,293.29 330.09,295.05 333.00,296.78 C335.92,298.51 338.84,300.21 341.76,301.88 C344.68,303.55 347.60,305.15 350.52,306.78 C353.43,308.42 356.35,310.12 359.27,311.70 C362.19,313.27 365.11,314.93 368.03,316.23 C370.94,317.53 373.86,318.57 376.78,319.52 C379.70,320.47 382.62,321.12 385.54,321.94 C388.45,322.76 391.37,323.52 394.29,324.43 C397.21,325.35 400.13,326.46 403.05,327.44 C405.96,328.41 408.88,329.51 411.80,330.26 C414.72,331.01 417.64,331.52 420.56,331.94 C423.47,332.35 426.39,332.54 429.31,332.76 C432.23,332.98 435.15,333.08 438.07,333.23 C440.98,333.38 443.90,333.40 446.82,333.66 C449.74,333.91 452.66,334.16 455.58,334.75 C458.49,335.34 461.41,336.09 464.33,337.21 C467.25,338.33 470.17,339.75 473.09,341.46 C476.00,343.18 478.92,345.24 481.84,347.50 C484.76,349.76 487.68,352.52 490.60,355.00 C493.51,357.48 496.43,360.06 499.35,362.39 C502.27,364.72 505.19,366.65 508.11,368.98 C511.02,371.31 513.94,373.90 516.86,376.37 C519.78,378.83 522.70,381.60 525.62,383.77 C528.53,385.94 531.45,387.71 534.37,389.40 C537.29,391.08 540.21,392.47 543.13,393.86 C546.04,395.25 548.96,396.52 551.88,397.74 C554.80,398.95 557.72,400.08 560.64,401.14 C563.55,402.20 566.47,403.16 569.39,404.10 C572.31,405.05 575.23,405.84 578.15,406.80 C581.06,407.75 583.98,408.73 586.90,409.83 C589.82,410.93 592.74,412.12 595.66,413.37 C598.57,414.62 601.49,415.93 604.41,417.31 C607.33,418.70 610.25,420.11 613.17,421.70 C616.08,423.29 619.00,424.94 621.92,426.87 C624.84,428.79 627.76,430.92 630.68,433.24 C633.59,435.56 636.51,438.16 639.43,440.80 C642.35,443.43 645.27,446.30 648.19,449.05 C651.10,451.79 654.02,454.55 656.94,457.26 C659.86,459.97 662.78,462.59 665.70,465.30 C668.61,468.01 671.53,470.76 674.45,473.51 C677.37,476.27 680.29,479.17 683.21,481.82 C686.12,484.47 689.04,487.07 691.96,489.42 C694.88,491.77 697.80,493.78 700.72,495.92 C703.63,498.06 706.55,500.04 709.47,502.25 C712.39,504.46 715.31,506.92 718.23,509.18 C721.14,511.44 724.06,514.02 726.98,515.79 C729.90,517.56 732.82,519.04 735.74,519.79 C738.65,520.54 741.57,520.43 744.49,520.30 C747.41,520.16 750.33,519.40 753.25,518.98 C756.16,518.57 759.08,518.05 762.00,517.79 C764.92,517.52 767.84,517.46 770.76,517.40 C773.67,517.34 776.59,517.40 779.51,517.40 C782.43,517.40 785.35,517.38 788.27,517.40 C791.18,517.42 794.10,517.44 797.02,517.54 C799.94,517.65 802.86,517.79 805.78,518.05 C808.69,518.32 811.61,518.75 814.53,519.13 C817.45,519.50 820.37,520.05 823.29,520.32 C826.20,520.59 829.12,520.72 832.04,520.74 C834.96,520.77 837.88,520.60 840.80,520.48 C843.71,520.36 846.63,520.23 849.55,520.03 C852.47,519.82 855.39,519.63 858.31,519.25 C861.22,518.88 864.14,518.42 867.06,517.75 C869.98,517.08 872.90,516.41 875.82,515.23 C878.73,514.05 881.65,512.66 884.57,510.70 C887.49,508.74 890.41,506.16 893.33,503.47 C896.24,500.77 899.16,497.75 902.08,494.52 C905.00,491.30 907.92,487.89 910.84,484.13 C913.75,480.37 916.67,476.19 919.59,471.94 C922.51,467.70 925.43,463.04 928.35,458.65 C931.26,454.26 934.18,449.66 937.10,445.60 C940.02,441.54 942.94,437.55 945.86,434.29 C948.77,431.03 951.69,428.13 954.61,426.02 C957.53,423.90 960.45,422.65 963.37,421.60 C966.28,420.55 969.20,420.33 972.12,419.72 C975.04,419.10 977.96,418.62 980.88,417.94 C983.79,417.25 986.71,416.39 989.63,415.58 C992.55,414.77 995.47,413.94 998.39,413.09 C1001.30,412.24 1004.22,411.44 1007.14,410.47 C1010.06,409.50 1012.98,408.47 1015.90,407.27 C1018.81,406.06 1021.73,404.70 1024.65,403.22 C1027.57,401.74 1030.49,400.12 1033.40,398.39 C1036.32,396.66 1039.24,394.75 1042.16,392.85 C1045.08,390.95 1048.00,388.90 1050.91,386.99 C1053.83,385.09 1056.75,383.22 1059.67,381.43 C1062.59,379.64 1065.51,377.93 1068.42,376.27 C1071.34,374.62 1074.26,373.02 1077.18,371.50 C1080.10,369.98 1083.02,368.50 1085.93,367.13 C1088.85,365.75 1091.77,364.44 1094.69,363.26 C1097.61,362.07 1100.53,361.02 1103.44,360.04 C1106.36,359.05 1109.28,358.14 1112.20,357.33 C1115.12,356.52 1118.04,355.74 1120.95,355.18 C1123.87,354.61 1126.94,354.23 1129.71,353.94 C1132.48,353.64 1136.28,353.49 1137.60,353.40" fill="none" stroke="#d418d4" stroke-width="1.0" stroke-linejoin="round" stroke-linecap="round"/>
<path d="M9.07,144.00 C9.87,143.55 16.23,139.82 17.83,139.00 C19.42,138.18 24.99,135.42 26.58,135.00 C28.17,134.58 33.74,134.04 35.34,134.40 C36.93,134.76 42.50,137.49 44.09,139.00 C45.68,140.51 51.25,149.18 52.85,151.00 C54.44,152.82 60.01,156.73 61.60,159.00 C63.19,161.27 68.76,173.36 70.36,176.00 C71.95,178.64 77.52,186.16 79.11,188.00 C80.70,189.84 86.27,194.61 87.87,196.26 C89.46,197.91 95.03,204.59 96.62,206.20 C98.21,207.81 103.78,212.30 105.38,213.96 C106.97,215.62 112.54,222.70 114.13,224.50 C115.72,226.30 121.29,232.12 122.89,233.76 C124.48,235.40 130.05,241.58 131.64,242.52 C133.23,243.46 138.80,243.79 140.40,244.12 C141.99,244.45 147.56,245.52 149.15,246.10 C150.74,246.68 156.31,249.71 157.91,250.50 C159.50,251.29 165.07,253.68 166.66,254.80 C168.25,255.92 173.82,261.89 175.42,262.84 C177.01,263.79 182.58,264.77 184.17,265.20 C185.76,265.63 191.33,267.59 192.93,267.60 C194.52,267.61 200.09,265.97 201.68,265.30 C203.27,264.63 208.84,260.46 210.44,260.18 C212.03,259.90 217.60,261.65 219.19,262.18 C220.78,262.71 226.35,264.73 227.95,265.98 C229.54,267.23 235.11,274.54 236.70,275.98 C238.29,277.42 243.86,281.00 245.46,281.84 C247.05,282.68 252.62,284.74 254.21,285.18 C255.80,285.62 261.37,285.89 262.97,286.68 C264.56,287.47 270.13,292.36 271.72,293.84 C273.31,295.32 278.88,300.82 280.48,302.92 C282.07,305.02 287.64,314.30 289.23,316.98 C290.82,319.66 296.39,330.32 297.99,332.44 C299.58,334.56 305.15,338.45 306.74,340.28 C308.33,342.11 313.90,350.88 315.50,352.56 C317.09,354.24 322.66,357.91 324.25,358.72 C325.84,359.53 331.41,360.45 333.00,361.46 C334.60,362.47 340.17,368.45 341.76,369.82 C343.35,371.19 348.92,375.75 350.52,376.58 C352.11,377.41 357.68,378.43 359.27,378.98 C360.86,379.53 366.43,382.46 368.03,382.64 C369.62,382.82 375.19,381.59 376.78,380.98 C378.37,380.37 383.94,376.62 385.54,375.88 C387.13,375.14 392.70,373.81 394.29,372.80 C395.88,371.79 401.45,366.11 403.05,364.80 C404.64,363.49 410.21,359.48 411.80,358.40 C413.39,357.32 418.96,354.16 420.56,352.96 C422.15,351.76 427.72,346.31 429.31,345.20 C430.90,344.09 436.47,341.97 438.07,340.70 C439.66,339.43 445.23,333.09 446.82,331.20 C448.41,329.31 453.98,321.75 455.58,319.90 C457.17,318.05 462.74,311.26 464.33,310.82 C465.92,310.38 471.49,313.34 473.09,315.06 C474.68,316.78 480.25,326.59 481.84,329.76 C483.43,332.93 489.00,345.69 490.60,349.98 C492.19,354.27 497.76,372.91 499.35,376.98 C500.94,381.05 506.51,390.95 508.11,394.72 C509.70,398.49 515.27,414.64 516.86,418.48 C518.45,422.32 524.02,433.11 525.62,436.98 C527.21,440.85 532.78,456.74 534.37,461.08 C535.96,465.42 541.53,480.61 543.13,484.72 C544.72,488.83 550.29,503.71 551.88,506.32 C553.47,508.93 559.04,512.91 560.64,513.48 C562.23,514.05 567.80,513.28 569.39,512.62 C570.98,511.96 576.55,507.74 578.15,506.26 C579.74,504.78 585.31,497.27 586.90,496.36 C588.49,495.45 594.06,496.89 595.66,496.22 C597.25,495.55 602.82,489.73 604.41,488.98 C606.00,488.23 611.57,487.75 613.17,487.98 C614.76,488.21 620.33,490.41 621.92,491.48 C623.51,492.55 629.08,498.28 630.68,499.70 C632.27,501.12 637.84,505.22 639.43,507.08 C641.02,508.94 646.59,517.77 648.19,520.18 C649.78,522.59 655.35,531.35 656.94,533.58 C658.53,535.81 664.10,542.70 665.70,544.68 C667.29,546.66 672.86,553.79 674.45,555.32 C676.04,556.85 681.61,560.52 683.21,561.46 C684.80,562.40 690.37,565.33 691.96,565.70 C693.55,566.07 699.12,566.36 700.72,565.56 C702.31,564.76 707.88,558.77 709.47,556.94 C711.06,555.11 716.63,547.14 718.23,545.48 C719.82,543.82 725.39,540.10 726.98,538.70 C728.57,537.30 734.14,531.99 735.74,530.10 C737.33,528.21 742.90,519.79 744.49,517.96 C746.08,516.13 751.65,511.49 753.25,510.00 C754.84,508.51 760.41,502.50 762.00,501.62 C763.59,500.74 769.16,500.54 770.76,500.36 C772.35,500.18 777.92,499.58 779.51,499.62 C781.10,499.66 786.67,500.09 788.27,500.76 C789.86,501.43 795.43,506.22 797.02,507.02 C798.61,507.82 804.18,509.11 805.78,509.52 C807.37,509.93 812.94,511.13 814.53,511.56 C816.12,511.99 821.69,514.24 823.29,514.30 C824.88,514.36 830.45,512.61 832.04,512.18 C833.63,511.75 839.20,510.09 840.80,509.54 C842.39,508.99 847.96,507.03 849.55,506.18 C851.14,505.33 856.71,501.39 858.31,500.18 C859.90,498.97 865.47,494.35 867.06,492.82 C868.65,491.29 874.22,485.01 875.82,483.32 C877.41,481.63 882.98,476.54 884.57,474.28 C886.16,472.02 891.73,461.65 893.33,458.42 C894.92,455.19 900.49,443.34 902.08,438.78 C903.67,434.22 909.24,412.96 910.84,408.30 C912.43,403.64 918.00,391.74 919.59,387.52 C921.18,383.30 926.75,366.53 928.35,361.88 C929.94,357.23 935.51,341.08 937.10,336.38 C938.69,331.68 944.26,314.61 945.86,310.14 C947.45,305.67 953.02,289.75 954.61,287.24 C956.20,284.73 961.77,283.06 963.37,282.58 C964.96,282.10 970.53,281.28 972.12,281.98 C973.71,282.68 979.28,288.67 980.88,290.24 C982.47,291.81 988.04,296.61 989.63,299.24 C991.22,301.87 996.79,315.95 998.39,319.22 C999.98,322.49 1005.55,331.92 1007.14,335.22 C1008.73,338.52 1014.30,352.42 1015.90,355.50 C1017.49,358.58 1023.06,366.37 1024.65,369.10 C1026.24,371.83 1031.81,382.37 1033.40,385.56 C1035.00,388.75 1040.57,402.65 1042.16,404.20 C1043.75,405.75 1049.32,403.45 1050.91,402.60 C1052.51,401.75 1058.08,396.30 1059.67,394.84 C1061.26,393.38 1066.83,387.71 1068.42,386.58 C1070.02,385.45 1075.59,383.67 1077.18,382.46 C1078.77,381.25 1084.34,374.57 1085.93,373.32 C1087.53,372.07 1093.10,369.36 1094.69,368.66 C1096.28,367.96 1101.85,365.69 1103.44,365.62 C1105.04,365.55 1110.61,367.52 1112.20,367.92 C1113.79,368.32 1119.36,369.76 1120.95,370.06 C1122.55,370.36 1128.12,370.73 1129.71,371.22 C1131.30,371.71 1137.67,375.04 1138.47,375.42" fill="none" stroke="#d0d01c" stroke-width="1.05" stroke-linejoin="round" stroke-linecap="round"/>
<path d="M9.07,117.00 C9.87,117.40 16.23,119.49 17.83,121.40 C19.42,123.31 24.99,134.76 26.58,138.00 C28.17,141.24 33.74,153.81 35.34,157.00 C36.93,160.19 42.50,170.15 44.09,173.08 C45.68,176.01 51.25,186.89 52.85,189.20 C54.44,191.51 60.01,196.58 61.60,198.52 C63.19,200.46 68.76,208.97 70.36,210.52 C71.95,212.07 77.52,214.71 79.11,215.52 C80.70,216.33 86.27,218.74 87.87,219.44 C89.46,220.14 95.03,222.29 96.62,223.20 C98.21,224.11 103.78,228.01 105.38,229.40 C106.97,230.79 112.54,236.43 114.13,238.48 C115.72,240.53 121.29,249.53 122.89,252.00 C124.48,254.47 130.05,264.41 131.64,265.60 C133.23,266.79 138.80,265.29 140.40,265.04 C141.99,264.79 147.56,263.03 149.15,262.80 C150.74,262.57 156.31,262.99 157.91,262.52 C159.50,262.05 165.07,257.82 166.66,257.60 C168.25,257.38 173.82,259.37 175.42,260.08 C177.01,260.79 182.58,264.24 184.17,265.36 C185.76,266.48 191.33,272.15 192.93,272.40 C194.52,272.65 200.09,268.96 201.68,268.08 C203.27,267.20 208.84,263.11 210.44,262.76 C212.03,262.41 217.60,263.93 219.19,264.28 C220.78,264.63 226.35,265.21 227.95,266.60 C229.54,267.99 235.11,276.92 236.70,279.56 C238.29,282.20 243.86,293.05 245.46,295.60 C247.05,298.15 252.62,306.37 254.21,307.60 C255.80,308.83 261.37,307.85 262.97,309.08 C264.56,310.31 270.13,319.52 271.72,321.08 C273.31,322.64 278.88,324.71 280.48,326.28 C282.07,327.85 287.64,335.54 289.23,338.36 C290.82,341.18 296.39,354.27 297.99,357.28 C299.58,360.29 305.15,369.05 306.74,371.48 C308.33,373.91 313.90,382.25 315.50,384.04 C317.09,385.83 322.66,391.11 324.25,391.16 C325.84,391.21 331.41,385.36 333.00,384.56 C334.60,383.76 340.17,382.62 341.76,382.36 C343.35,382.10 348.92,382.45 350.52,381.68 C352.11,380.91 357.68,374.61 359.27,373.92 C360.86,373.23 366.43,373.80 368.03,374.12 C369.62,374.44 375.19,377.83 376.78,377.40 C378.37,376.97 383.94,370.63 385.54,369.40 C387.13,368.17 392.70,365.17 394.29,363.92 C395.88,362.67 401.45,357.61 403.05,355.68 C404.64,353.75 410.21,345.15 411.80,342.68 C413.39,340.21 418.96,330.49 420.56,328.52 C422.15,326.55 427.72,322.00 429.31,321.00 C430.90,320.00 436.47,318.78 438.07,317.48 C439.66,316.18 445.23,308.57 446.82,306.72 C448.41,304.87 453.98,298.36 455.58,297.12 C457.17,295.88 462.74,292.03 464.33,293.12 C465.92,294.21 471.49,304.67 473.09,309.12 C474.68,313.57 480.25,334.39 481.84,342.04 C483.43,349.69 489.00,382.80 490.60,393.24 C492.19,403.68 497.76,447.47 499.35,456.84 C500.94,466.21 506.51,489.87 508.11,496.32 C509.70,502.77 515.27,524.60 516.86,527.84 C518.45,531.08 524.02,531.82 525.62,531.92 C527.21,532.02 532.78,530.68 534.37,528.92 C535.96,527.16 541.53,513.75 543.13,512.60 C544.72,511.45 550.29,517.55 551.88,516.32 C553.47,515.09 559.04,501.21 560.64,499.12 C562.23,497.03 567.80,494.73 569.39,493.32 C570.98,491.91 576.55,484.80 578.15,483.60 C579.74,482.40 585.31,480.80 586.90,480.12 C588.49,479.44 594.06,476.24 595.66,476.12 C597.25,476.00 602.82,478.25 604.41,478.84 C606.00,479.43 611.57,480.77 613.17,482.64 C614.76,484.51 620.33,496.03 621.92,499.36 C623.51,502.69 629.08,515.76 630.68,519.28 C632.27,522.80 637.84,534.20 639.43,538.04 C641.02,541.88 646.59,557.29 648.19,561.52 C649.78,565.75 655.35,581.93 656.94,584.52 C658.53,587.11 664.10,589.38 665.70,590.00 C667.29,590.62 672.86,591.83 674.45,591.36 C676.04,590.89 681.61,586.83 683.21,584.88 C684.80,582.93 690.37,573.36 691.96,569.88 C693.55,566.40 699.12,550.78 700.72,546.60 C702.31,542.42 707.88,528.15 709.47,523.88 C711.06,519.61 716.63,502.45 718.23,499.60 C719.82,496.75 725.39,493.36 726.98,492.52 C728.57,491.68 734.14,490.61 735.74,490.32 C737.33,490.03 742.90,488.79 744.49,489.32 C746.08,489.85 751.65,494.82 753.25,496.12 C754.84,497.42 760.41,502.54 762.00,503.64 C763.59,504.74 769.16,507.72 770.76,508.20 C772.35,508.68 777.92,508.56 779.51,508.92 C781.10,509.28 786.67,511.38 788.27,512.20 C789.86,513.02 795.43,517.63 797.02,517.92 C798.61,518.21 804.18,515.67 805.78,515.40 C807.37,515.13 812.94,514.53 814.53,514.92 C816.12,515.31 821.69,519.93 823.29,519.68 C824.88,519.43 830.45,513.84 832.04,512.16 C833.63,510.48 839.20,502.54 840.80,501.16 C842.39,499.78 847.96,498.39 849.55,496.96 C851.14,495.53 856.71,488.26 858.31,485.44 C859.90,482.62 865.47,468.77 867.06,465.96 C868.65,463.15 874.22,456.17 875.82,454.48 C877.41,452.79 882.98,450.55 884.57,447.40 C886.16,444.25 891.73,424.91 893.33,419.88 C894.92,414.85 900.49,398.41 902.08,392.12 C903.67,385.83 909.24,357.15 910.84,350.64 C912.43,344.13 918.00,327.31 919.59,320.56 C921.18,313.81 926.75,282.51 928.35,276.36 C929.94,270.21 935.51,257.26 937.10,252.88 C938.69,248.50 944.26,230.80 945.86,228.16 C947.45,225.52 953.02,222.35 954.61,223.84 C956.20,225.33 961.77,238.80 963.37,244.60 C964.96,250.40 970.53,280.05 972.12,287.60 C973.71,295.15 979.28,320.08 980.88,327.60 C982.47,335.12 988.04,362.41 989.63,370.32 C991.22,378.23 996.79,409.55 998.39,414.60 C999.98,419.65 1005.55,425.04 1007.14,425.84 C1008.73,426.64 1014.30,424.79 1015.90,423.40 C1017.49,422.01 1023.06,412.65 1024.65,410.60 C1026.24,408.55 1031.81,402.33 1033.40,400.80 C1035.00,399.27 1040.57,395.75 1042.16,393.80 C1043.75,391.85 1049.32,381.86 1050.91,379.36 C1052.51,376.86 1058.08,367.81 1059.67,366.28 C1061.26,364.75 1066.83,362.76 1068.42,362.56 C1070.02,362.36 1075.59,365.00 1077.18,364.12 C1078.77,363.24 1084.34,353.40 1085.93,352.84 C1087.53,352.28 1093.10,356.86 1094.69,357.96 C1096.28,359.06 1101.85,363.57 1103.44,364.96 C1105.04,366.35 1110.61,372.28 1112.20,373.28 C1113.79,374.28 1119.36,374.52 1120.95,376.00 C1122.55,377.48 1128.12,388.07 1129.71,389.60 C1131.30,391.13 1137.67,392.58 1138.47,392.88" fill="none" stroke="#e6e6e6" stroke-width="1.0" stroke-linejoin="round" stroke-linecap="round"/>
<line x1="4.75" y1="397.3" x2="1176" y2="397.3" stroke="#f09a3a" stroke-width="1.35" stroke-dasharray="3.9 3.6"/>
<line x1="1175.5" y1="397.3" x2="1265" y2="397.3" stroke="#f09a3a" stroke-width="1.4"/>
<text x="1182.2" y="31.6" font-family="Liberation Sans, sans-serif" font-size="15.4" letter-spacing="0.2" fill="#f0f0f0">81.19</text>
<text x="1182.2" y="99.3" font-family="Liberation Sans, sans-serif" font-size="15.4" letter-spacing="0.2" fill="#f0f0f0">78.40</text>
<text x="1182.2" y="167.8" font-family="Liberation Sans, sans-serif" font-size="15.4" letter-spacing="0.2" fill="#f0f0f0">75.61</text>
<text x="1182.2" y="236.5" font-family="Liberation Sans, sans-serif" font-size="15.4" letter-spacing="0.2" fill="#f0f0f0">72.82</text>
<text x="1182.2" y="373.9" font-family="Liberation Sans, sans-serif" font-size="15.4" letter-spacing="0.2" fill="#f0f0f0">67.24</text>
<text x="1182.2" y="442.6" font-family="Liberation Sans, sans-serif" font-size="15.4" letter-spacing="0.2" fill="#f0f0f0">64.45</text>
<text x="1182.2" y="511.4" font-family="Liberation Sans, sans-serif" font-size="15.4" letter-spacing="0.2" fill="#f0f0f0">61.66</text>
<text x="1182.2" y="580.2" font-family="Liberation Sans, sans-serif" font-size="15.4" letter-spacing="0.2" fill="#f0f0f0">58.87</text>
<text x="1182.2" y="648.9" font-family="Liberation Sans, sans-serif" font-size="15.4" letter-spacing="0.2" fill="#f0f0f0">56.08</text>
<rect x="1180" y="287" width="84" height="19.4" fill="#000"/>
<text x="1181.2" y="302" font-family="Liberation Sans, sans-serif" font-size="15.4" letter-spacing="0.2" fill="#e8872a">70.67</text>
<rect x="1179.6" y="397.3" width="84.8" height="21.3" fill="#000"/>
<polyline points="1264.4,405 1264.4,397.3 1179.6,397.3 1179.6,418.6 1264.4,418.6" fill="none" stroke="#f09a3a" stroke-width="1.4"/>
<text x="1182.8" y="413.2" font-family="Liberation Sans, sans-serif" font-size="15.4" letter-spacing="0.2" fill="#f09a3a">66.18</text>
<rect x="1254" y="387" width="10" height="10.3" fill="#000"/>
<polygon points="1259,386.8 1263.4,391.4 1254.6,391.4" fill="#f09a3a"/>
<polygon points="1259,392 1264.4,397.3 1253.6,397.3" fill="#f09a3a"/>
<line x1="5.8" y1="109.8" x2="15.1" y2="109.8" stroke="#d8d8d8" stroke-width="1.4"/><line x1="9.1" y1="106.6" x2="9.1" y2="111.4" stroke="#d8d8d8" stroke-width="1.4"/>
<line x1="960.1" y1="95.8" x2="969.4" y2="95.8" stroke="#d8d8d8" stroke-width="1.4"/><line x1="963.4" y1="92.6" x2="963.4" y2="97.4" stroke="#d8d8d8" stroke-width="1.4"/>
<line x1="504.8" y1="670.0" x2="514.1" y2="670.0" stroke="#d8d8d8" stroke-width="1.4"/><line x1="508.1" y1="666.8" x2="508.1" y2="671.6" stroke="#d8d8d8" stroke-width="1.4"/>
<text x="15.2" y="105.8" font-family="Liberation Sans, sans-serif" font-size="16.2" font-weight="bold" letter-spacing="-0.55" fill="#e0485a">77.86</text>
<text x="969.2" y="91.6" font-family="Liberation Sans, sans-serif" font-size="16.2" font-weight="bold" letter-spacing="-0.55" fill="#e0485a">78.40</text>
<text x="514" y="684.3" font-family="Liberation Sans, sans-serif" font-size="16.2" font-weight="bold" letter-spacing="-0.55" fill="#4cb98c">55.12</text>
<text x="1135.5" y="692.2" font-family="Liberation Sans, sans-serif" font-size="30.6" letter-spacing="2.2" fill="#e8f0ff" stroke="#e8f0ff" stroke-width="0.45">FX678</text>
<text x="6" y="18" font-family="Liberation Sans, Noto Sans CJK SC, sans-serif" font-size="15" fill="#dcdcdc">美原油连续</text>
<text x="81" y="18" font-family="Liberation Sans, Noto Sans CJK SC, sans-serif" font-size="15" fill="#f07814">【日线】</text>
<g stroke="#dc6c06" fill="none"><circle cx="148" cy="14.8" r="5.5" stroke-width="1.5"/><line x1="142.5" y1="14.7" x2="153.5" y2="14.7" stroke-width="1.4"/><line x1="148" y1="9.3" x2="148" y2="20.3" stroke-width="1.4"/></g>
<rect x="164" y="3.4" width="14.6" height="15.9" fill="#8c8c8c"/>
<rect x="162.95" y="2.45" width="13.5" height="14.9" fill="#fff" stroke="#12128c" stroke-width="1.3"/>
<polyline points="163.6,11.6 168,6.1 171.4,10.2 175.8,7.3" fill="none" stroke="#ff2424" stroke-width="1.7"/>
<polyline points="163.6,15.3 168,10 171.4,13.7 175.8,10.9" fill="none" stroke="#3434f4" stroke-width="1.7"/>
<text x="181.2" y="17.6" font-family="Liberation Sans, sans-serif" font-size="15.2" letter-spacing="0.15" fill="#dcdcdc">MA(5,10,30,60,100,200)</text>
<text x="354.0" y="17.6" font-family="Liberation Sans, sans-serif" font-size="15.2" letter-spacing="0.26" fill="#dcdcdc">MA5:66.38</text>
<text x="440.6" y="17.6" font-family="Liberation Sans, sans-serif" font-size="15.2" letter-spacing="0.26" fill="#c8c814">MA10:67.08</text>
<text x="535.2" y="17.6" font-family="Liberation Sans, sans-serif" font-size="15.2" letter-spacing="0.26" fill="#d418d4">MA30:67.98</text>
<text x="630.3" y="17.6" font-family="Liberation Sans, sans-serif" font-size="15.2" letter-spacing="0.26" fill="#20c020">MA60:64.67</text>
<text x="725.4" y="17.6" font-family="Liberation Sans, sans-serif" font-size="15.2" letter-spacing="0.26" fill="#8c8c8c">MA100:65.06</text>
<text x="829.8" y="17.6" font-family="Liberation Sans, sans-serif" font-size="15.2" letter-spacing="0.26" fill="#e83030">MA200:68.19</text>
<rect x="1099.05" y="0.9" width="19.6" height="19.5" fill="#0a0a0a"/>
<rect x="1100.70" y="2.6" width="16.3" height="16.1" fill="#000" stroke="#b2b2b2" stroke-width="1.25"/>
<rect x="1119.10" y="0.9" width="19.6" height="19.5" fill="#0a0a0a"/>
<rect x="1120.75" y="2.6" width="16.3" height="16.1" fill="#000" stroke="#b2b2b2" stroke-width="1.25"/>
<rect x="1139.15" y="0.9" width="19.6" height="19.5" fill="#0a0a0a"/>
<rect x="1140.80" y="2.6" width="16.3" height="16.1" fill="#000" stroke="#b2b2b2" stroke-width="1.25"/>
<rect x="1159.20" y="0.9" width="19.6" height="19.5" fill="#0a0a0a"/>
<rect x="1160.85" y="2.6" width="16.3" height="16.1" fill="#000" stroke="#b2b2b2" stroke-width="1.25"/>
<g fill="#a4a4a4">
<rect x="1103.00" y="9.35" width="3.00" height="2.3"/>
<rect x="1107.90" y="9.35" width="2.20" height="2.3"/>
<rect x="1112.00" y="9.35" width="3.00" height="2.3"/>
<rect x="1107.90" y="4.30" width="2.2" height="3.00"/>
<rect x="1107.90" y="13.30" width="2.2" height="3.00"/>
</g>
<g stroke="#a4a4a4" stroke-width="1.2" fill="#a4a4a4"><line x1="1124.45" y1="5" x2="1124.45" y2="16.6"/><line x1="1123.35" y1="15.1" x2="1134.35" y2="15.1"/><polygon stroke="none" points="1124.45,3.9 1122.75,6.8 1126.15,6.8"/><polygon stroke="none" points="1122.35,15.1 1125.25,13.4 1125.25,16.8"/><polygon stroke="none" points="1135.25,15.1 1132.35,13.4 1132.35,16.8"/></g>
<rect x="1127.45" y="5.6" width="1.5" height="7.4" fill="#a4a4a4"/>
<polygon points="1129.55,8.5 1133.05,5.5 1133.05,11.5" fill="#a4a4a4"/>
<g stroke="#a4a4a4" stroke-width="1.2" fill="#a4a4a4"><line x1="1144.50" y1="5" x2="1144.50" y2="16.6"/><line x1="1143.40" y1="15.1" x2="1154.40" y2="15.1"/><polygon stroke="none" points="1144.50,3.9 1142.80,6.8 1146.20,6.8"/><polygon stroke="none" points="1142.40,15.1 1145.30,13.4 1145.30,16.8"/><polygon stroke="none" points="1155.30,15.1 1152.40,13.4 1152.40,16.8"/></g>
<polygon points="1147.80,5.5 1147.80,13 1154.00,9.6" fill="#a4a4a4"/>
<rect x="1163.95" y="4.9" width="3.2" height="11.2" fill="none" stroke="#a4a4a4" stroke-width="1.25"/>
<polygon points="1166.65,7.8 1166.65,12.2 1170.05,10" fill="#a4a4a4"/>
<polygon points="1169.95,6.7 1169.95,13.3 1174.05,10" fill="#a4a4a4"/>
<rect x="1165.75" y="9.2" width="5" height="1.6" fill="#a4a4a4"/>
<rect x="0" y="0" width="1265" height="1.2" fill="#212224"/>
<rect x="1180" y="40.4" width="1.3" height="1.3" fill="#262626"/>
<rect x="1180" y="54.2" width="1.3" height="1.3" fill="#262626"/>
<rect x="1180" y="67.9" width="1.3" height="1.3" fill="#262626"/>
<rect x="1180" y="81.7" width="1.3" height="1.3" fill="#262626"/>
<rect x="1180" y="108.1" width="1.3" height="1.3" fill="#262626"/>
<rect x="1180" y="121.9" width="1.3" height="1.3" fill="#262626"/>
<rect x="1180" y="135.6" width="1.3" height="1.3" fill="#262626"/>
<rect x="1180" y="149.4" width="1.3" height="1.3" fill="#262626"/>
<rect x="1180" y="176.6" width="1.3" height="1.3" fill="#262626"/>
<rect x="1180" y="190.4" width="1.3" height="1.3" fill="#262626"/>
<rect x="1180" y="204.1" width="1.3" height="1.3" fill="#262626"/>
<rect x="1180" y="217.9" width="1.3" height="1.3" fill="#262626"/>
<rect x="1180" y="245.3" width="1.3" height="1.3" fill="#262626"/>
<rect x="1180" y="259.1" width="1.3" height="1.3" fill="#262626"/>
<rect x="1180" y="272.8" width="1.3" height="1.3" fill="#262626"/>
<rect x="1180" y="286.6" width="1.3" height="1.3" fill="#262626"/>
<rect x="1180" y="314.1" width="1.3" height="1.3" fill="#262626"/>
<rect x="1180" y="327.9" width="1.3" height="1.3" fill="#262626"/>
<rect x="1180" y="341.6" width="1.3" height="1.3" fill="#262626"/>
<rect x="1180" y="355.4" width="1.3" height="1.3" fill="#262626"/>
<rect x="1180" y="382.7" width="1.3" height="1.3" fill="#262626"/>
<rect x="1180" y="396.5" width="1.3" height="1.3" fill="#262626"/>
<rect x="1180" y="410.2" width="1.3" height="1.3" fill="#262626"/>
<rect x="1180" y="424.0" width="1.3" height="1.3" fill="#262626"/>
<rect x="1180" y="451.4" width="1.3" height="1.3" fill="#262626"/>
<rect x="1180" y="465.2" width="1.3" height="1.3" fill="#262626"/>
<rect x="1180" y="478.9" width="1.3" height="1.3" fill="#262626"/>
<rect x="1180" y="492.7" width="1.3" height="1.3" fill="#262626"/>
<rect x="1180" y="520.2" width="1.3" height="1.3" fill="#262626"/>
<rect x="1180" y="534.0" width="1.3" height="1.3" fill="#262626"/>
<rect x="1180" y="547.7" width="1.3" height="1.3" fill="#262626"/>
<rect x="1180" y="561.5" width="1.3" height="1.3" fill="#262626"/>
<rect x="1180" y="589.0" width="1.3" height="1.3" fill="#262626"/>
<rect x="1180" y="602.8" width="1.3" height="1.3" fill="#262626"/>
<rect x="1180" y="616.5" width="1.3" height="1.3" fill="#262626"/>
<rect x="1180" y="630.3" width="1.3" height="1.3" fill="#262626"/>
<rect x="1180" y="657.7" width="1.3" height="1.3" fill="#262626"/>
<rect x="1180" y="671.5" width="1.3" height="1.3" fill="#262626"/>
<rect x="1180" y="685.2" width="1.3" height="1.3" fill="#262626"/>
<rect x="1180" y="699.0" width="1.3" height="1.3" fill="#262626"/>
<rect x="0" y="712.4" width="1265" height="4.6" fill="#1c1c1c"/>
<rect x="0" y="712.4" width="1265" height="2" fill="#1e1e1e"/>
</svg>
</body></html>
